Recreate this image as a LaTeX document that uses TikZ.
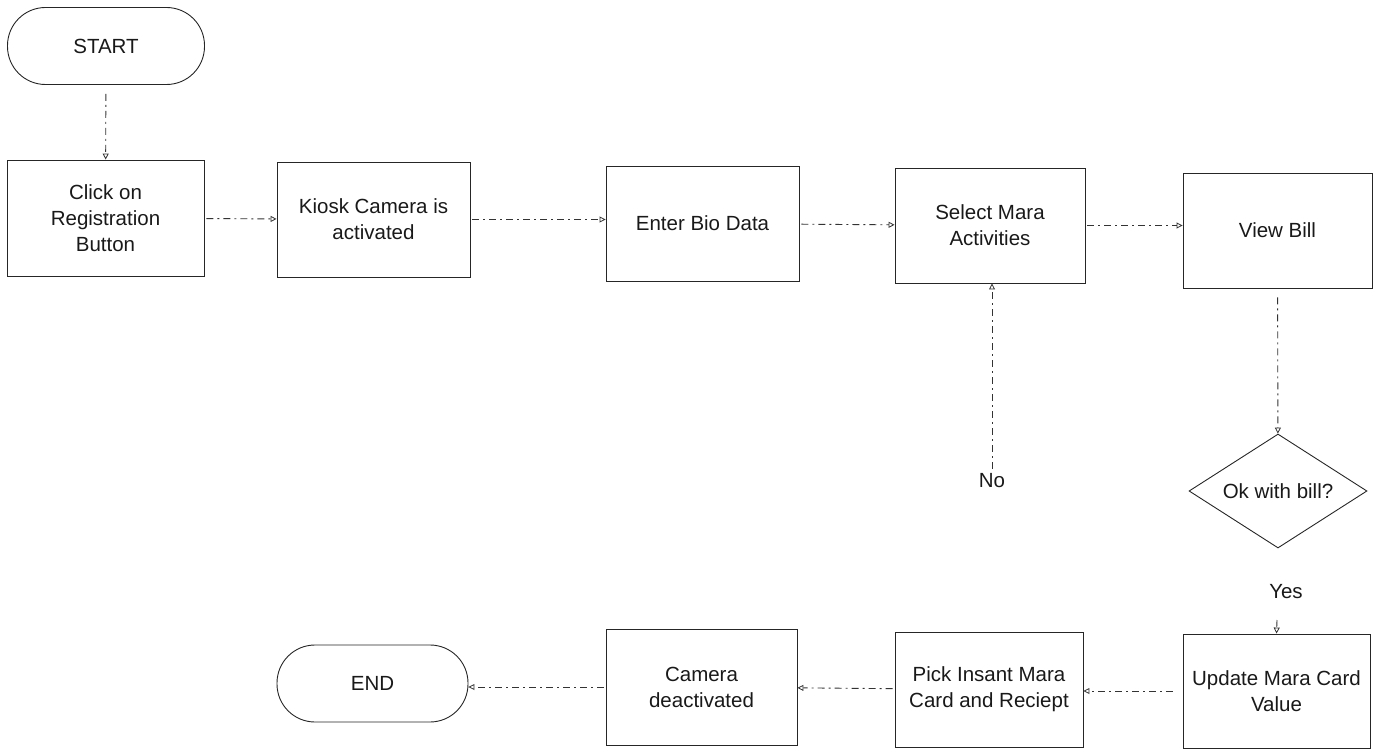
\documentclass[tikz,border=0pt]{standalone}
\usepackage{fontspec}
\setmainfont{Liberation Sans}
\usetikzlibrary{arrows.meta,shapes.geometric}

\tikzset{
  stepbox/.style={draw=black!85, line width=0.9pt, rectangle, align=center,
    inner sep=2pt, text=black!90, font=\fontsize{20.5}{26}\selectfont},
  termbox/.style={stepbox, rounded corners=38pt},
  decision/.style={draw=black!85, line width=0.9pt, diamond, aspect=1.56,
    inner sep=0pt, minimum width=178pt, minimum height=114pt, text=black!90,
    font=\fontsize{20.5}{26}\selectfont},
  label/.style={font=\fontsize{20.5}{26}\selectfont, text=black!90, inner sep=1pt},
  flow/.style={draw=black!80, line width=0.9pt, dash pattern=on 7pt off 4pt on 2pt off 4pt,
    -{Triangle[open, length=6pt, width=6pt, line width=0.8pt]}, shorten <=2pt}
}

\begin{document}
\begin{tikzpicture}[x=1pt, y=-1pt]
  \useasboundingbox (0,0) rectangle (1395,754);

  % top row
  \node[termbox, minimum width=197pt, minimum height=77pt] (start) at (106,46) {START};
  \node[stepbox, minimum width=197pt, minimum height=116pt] (reg) at (105.5,218)
    {Click on\\Registration\\Button};
  \node[stepbox, minimum width=193pt, minimum height=115pt] (cam) at (373.5,219.5)
    {Kiosk Camera is\\activated};
  \node[stepbox, minimum width=193pt, minimum height=115pt] (bio) at (702.5,223.5)
    {Enter Bio Data};
  \node[stepbox, minimum width=190pt, minimum height=115pt] (sel) at (990,225.5)
    {Select Mara\\Activities};
  \node[stepbox, minimum width=189pt, minimum height=115pt] (bill) at (1277.5,230.5)
    {View Bill};

  % decision and branch labels
  \node[decision] (ok) at (1278,491) {Ok with bill?};
  \node[label] (no) at (992,481) {No};
  \node[label] (yes) at (1286,592) {Yes};
  \coordinate (yesend) at (1277,620);

  % bottom row
  \node[stepbox, minimum width=187pt, minimum height=114pt] (upd) at (1276.5,691)
    {Update Mara Card\\Value};
  \node[stepbox, minimum width=188pt, minimum height=115pt] (pick) at (989,689.5)
    {Pick Insant Mara\\Card and Reciept};
  \node[stepbox, minimum width=191pt, minimum height=116pt] (off) at (701.5,687)
    {Camera\\deactivated};
  \node[termbox, minimum width=191pt, minimum height=77pt] (end) at (372.5,683.5) {END};

  % connectors
  \draw[flow, shorten <=9pt] (start) -- (reg);
  \draw[flow] (reg) -- (cam);
  \draw[flow] (cam.east) -- (cam.east -| bio.west);
  \draw[flow] (bio) -- (sel);
  \draw[flow] (sel.east) -- (bill.west |- sel.east);
  \draw[flow, shorten <=9pt] (bill) -- (ok);
  \draw[flow, shorten <=4pt] (no.north) -- (no.north |- sel.south);
  \draw[flow, shorten <=0pt] (yesend) -- (upd.north);
  \draw[flow, shorten <=10pt] (upd.west) -- (pick.east |- upd.west);
  \draw[flow] (pick) -- (off);
  \draw[flow] (off.west) -- (end.east |- off.west);
\end{tikzpicture}
\end{document}
